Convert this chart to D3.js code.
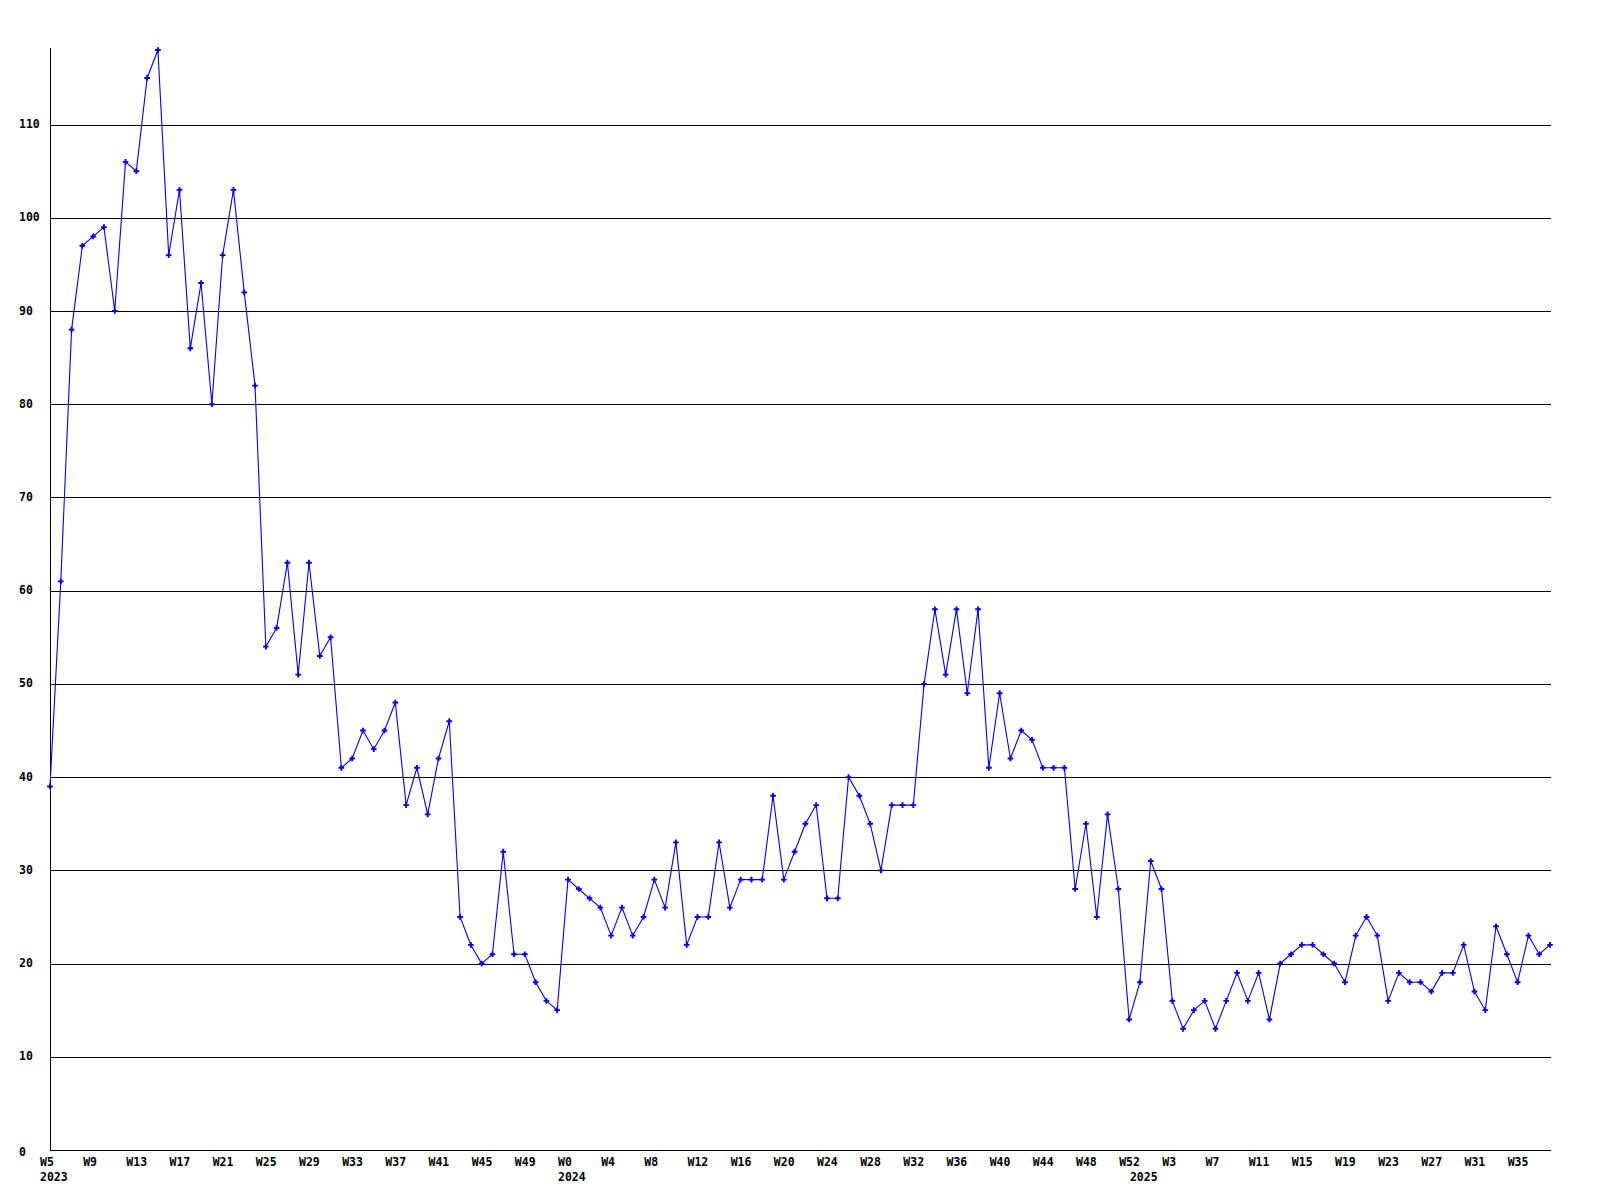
<!DOCTYPE html>
<html>
<head>
<meta charset="utf-8">
<script src="https://cdn.jsdelivr.net/npm/d3@7"></script>
<style>
  html, body { margin: 0; padding: 0; background: #ffffff; }
  svg text { font-family: "DejaVu Sans Mono", "Liberation Mono", monospace; font-weight: bold; font-size: 11.5px; fill: #000; }
</style>
</head>
<body>
<svg id="chart" width="1600" height="1200"></svg>
<script>
// Year segments of the weekly categories (first and last week shown in each year)
const yearSegments = [
  { year: "2023", first: 5, last: 52 },
  { year: "2024", first: 0, last: 52 },
  { year: "2025", first: 0, last: 38 }
];

// Weekly values
const values = [
  39, 61, 88, 97, 98, 99, 90, 106, 105, 115,
  118, 96, 103, 86, 93, 80, 96, 103, 92, 82,
  54, 56, 63, 51, 63, 53, 55, 41, 42, 45,
  43, 45, 48, 37, 41, 36, 42, 46, 25, 22,
  20, 21, 32, 21, 21, 18, 16, 15, 29, 28,
  27, 26, 23, 26, 23, 25, 29, 26, 33, 22,
  25, 25, 33, 26, 29, 29, 29, 38, 29, 32,
  35, 37, 27, 27, 40, 38, 35, 30, 37, 37,
  37, 50, 58, 51, 58, 49, 58, 41, 49, 42,
  45, 44, 41, 41, 41, 28, 35, 25, 36, 28,
  14, 18, 31, 28, 16, 13, 15, 16, 13, 16,
  19, 16, 19, 14, 20, 21, 22, 22, 21, 20,
  18, 23, 25, 23, 16, 19, 18, 18, 17, 19,
  19, 22, 17, 15, 24, 21, 18, 23, 21, 22
];

// Y axis tick values
const yTicks = [0, 10, 20, 30, 40, 50, 60, 70, 80, 90, 100, 110];
const yMax = 118;
const xTickEvery = 4;

// Build categories
const categories = [];
yearSegments.forEach(s => {
  for (let w = s.first; w <= s.last; w++) {
    categories.push({ year: s.year, week: "W" + w, firstOfYear: w === s.first });
  }
});

const svg = d3.select("#chart");
const mLeft = 50, mRight = 1550, mTop = 50, mBottom = 1150;

const x = d3.scaleLinear().domain([0, categories.length - 1]).range([mLeft, mRight]);
const y = d3.scaleLinear().domain([0, yMax]).range([mBottom, mTop]);

// Gridlines
svg.append("g")
  .selectAll("line")
  .data(yTicks.filter(d => d > 0))
  .join("line")
  .attr("x1", mLeft).attr("x2", mRight + 1)
  .attr("y1", d => Math.round(y(d)) + 0.5)
  .attr("y2", d => Math.round(y(d)) + 0.5)
  .attr("stroke", "#000").attr("stroke-width", 1)
  .attr("shape-rendering", "crispEdges");

// Axes lines
svg.append("line")
  .attr("x1", mLeft + 0.5).attr("x2", mLeft + 0.5)
  .attr("y1", mTop - 2).attr("y2", mBottom + 0.5)
  .attr("stroke", "#000").attr("shape-rendering", "crispEdges");
svg.append("line")
  .attr("x1", mLeft).attr("x2", mRight + 1)
  .attr("y1", mBottom + 0.5).attr("y2", mBottom + 0.5)
  .attr("stroke", "#000").attr("shape-rendering", "crispEdges");

// Y labels
svg.append("g")
  .selectAll("text")
  .data(yTicks)
  .join("text")
  .attr("x", 19)
  .attr("y", d => y(d) + (d === 0 ? 2 : 0))
  .attr("dominant-baseline", "middle")
  .text(d => d);

// X labels (every 4th week)
const xIdx = d3.range(0, categories.length, xTickEvery);
svg.append("g")
  .selectAll("text")
  .data(xIdx)
  .join("text")
  .attr("x", i => x(i) - 10)
  .attr("y", 1166)
  .text(i => categories[i].week);

// Year labels
svg.append("g")
  .selectAll("text")
  .data(categories.map((c, i) => ({ c, i })).filter(d => d.c.firstOfYear))
  .join("text")
  .attr("x", d => x(d.i) - 10)
  .attr("y", 1181)
  .text(d => d.c.year);

// Line
const line = d3.line().x((d, i) => x(i)).y(d => y(d));
svg.append("path")
  .datum(values)
  .attr("d", line)
  .attr("fill", "none")
  .attr("stroke", "#0000ff")
  .attr("stroke-width", 1.1);

// Markers
const sym = d3.symbol().type(d3.symbolCross).size(18);
svg.append("g")
  .selectAll("path")
  .data(values)
  .join("path")
  .attr("transform", (d, i) => `translate(${x(i)},${y(d)})`)
  .attr("d", sym)
  .attr("fill", "#0000ff");
</script>
</body>
</html>
